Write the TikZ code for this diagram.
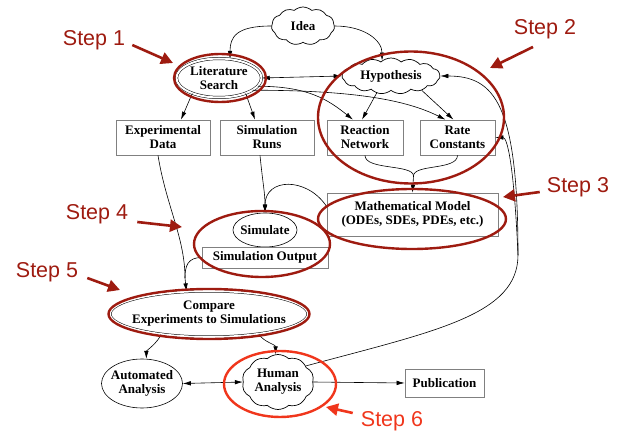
\documentclass[tikz,border=0pt]{standalone}
\usepackage{fontspec}
\setmainfont{Liberation Serif}
\newfontfamily\stepfont{Liberation Sans}
\usetikzlibrary{shapes.geometric,shapes.symbols,arrows.meta}
\definecolor{ringred}{HTML}{9E1B10}
\definecolor{hotred}{HTML}{F0361C}
\definecolor{boxgray}{HTML}{808080}

\begin{document}
\begin{tikzpicture}[x=1pt,y=-1pt,
  every node/.style={font=\bfseries\fontsize{13}{14}\selectfont, align=center, inner sep=0pt},
  box/.style={draw=boxgray, line width=0.7pt, rectangle},
  oval/.style={draw, ellipse, line width=0.6pt, inner xsep=-12pt, inner ysep=-3pt},
  dbloval/.style={draw, ellipse, double, double distance=2pt, line width=0.5pt, inner xsep=-12pt, inner ysep=-3pt},
  puff/.style={draw, cloud, cloud puffs=#1, cloud puff arc=85, cloud ignores aspect,
    line width=0.7pt, inner xsep=-14pt, inner ysep=-8pt},
  wire/.style={line width=0.6pt},
  link/.style={wire, -{Latex[length=8pt,width=4.5pt]}},
  dlink/.style={wire, {Latex[length=8pt,width=4.5pt]}-{Latex[length=8pt,width=4.5pt]}},
  ring/.style={draw=ringred, line width=2.4pt, ellipse, inner sep=0pt},
  steplabel/.style={font=\stepfont\fontsize{21.5}{22}\selectfont, text=ringred},
  steparrow/.style={draw=ringred, line width=2.6pt, -{Triangle[length=12pt,width=12pt]}},
]
\useasboundingbox (0,0) rectangle (625,436);

% ---- process nodes ----
\node[puff=11, minimum width=63pt, minimum height=38pt] (idea) at (303,26) {Idea};
\node[dbloval, minimum width=85pt, minimum height=39pt] (lit) at (219,78) {Literature\\Search};
\node[puff=15, minimum width=98pt, minimum height=36pt] (hyp) at (391,76) {Hypothesis};
\node[box, minimum width=94pt, minimum height=35pt] (expdata) at (163,137.5) {Experimental\\Data};
\node[box, minimum width=94pt, minimum height=35pt] (simruns) at (267,137.5) {Simulation\\Runs};
\node[box, minimum width=76pt, minimum height=35pt] (rxn) at (365,137.5) {Reaction\\Network};
\node[box, minimum width=75pt, minimum height=35pt] (rate) at (457.5,137.5) {Rate\\Constants};
\node[box, minimum width=171pt, minimum height=43pt] (model) at (412.5,214.5) {Mathematical Model\\(ODEs, SDEs, PDEs, etc.)};
\node[oval, minimum width=64pt, minimum height=34pt] (simulate) at (265,230) {Simulate};
\node[box, minimum width=126pt, minimum height=21pt] (simout) at (265,257.5) {Simulation Output};
\node[dbloval, minimum width=198pt, minimum height=46pt] (compare) at (209,314) {Compare\\Experiments to Simulations};
\node[oval, minimum width=81pt, minimum height=49pt] (auto) at (142,383.5) {Automated\\Analysis};
\node[puff=10, minimum width=72pt, minimum height=55pt] (human) at (278,382) {Human\\Analysis};
\node[box, minimum width=79pt, minimum height=28pt] (pub) at (444.5,383) {Publication};

% ---- connectors ----
\draw[link] (idea.west) .. controls +(-35,0) and +(0,-22) .. (lit.60);
\draw[link] (idea.east) .. controls +(30,0) and +(0,-20) .. (hyp.120);
\draw[dlink] (lit.east) -- (hyp.west);
\draw[link] (lit.-12) .. controls +(50,0) and +(-25,-20) .. ([xshift=-12pt]rxn.north);
\draw[link] (lit.-20) .. controls +(100,0) and +(-40,-20) .. ([xshift=-12pt]rate.north);
\draw[link] (hyp.-130) -- ([xshift=-3pt]rxn.north);
\draw[link] (hyp.-25) -- ([xshift=-4pt]rate.north);
\draw[link] (lit.-150) -- ([xshift=18pt]expdata.north);
\draw[link] (lit.-30) -- ([xshift=-12pt]simruns.north);

\coordinate (merge) at (413.5,176);
\draw[wire] (rxn.south) .. controls +(0,15) and +(0,-12) .. (merge);
\draw[wire] (rate.south) .. controls +(0,15) and +(0,-12) .. (merge);
\draw[link] (merge) -- (model.north);

\draw[link] ([xshift=-7pt]simruns.south) .. controls +(3,30) and +(0,-20) .. (simulate.north);
\draw[link] ([yshift=8pt]model.west) .. controls +(-20,-30) and +(0,-35) .. (simulate.north);

\coordinate (join) at (185,278);
\draw[wire] ([xshift=-5pt]expdata.south) .. controls +(8,50) and +(0,-40) .. (join);
\draw[wire] (simout.west) .. controls +(-14,0) and +(0,-12) .. (join);
\draw[link] (join) -- (compare.135);

\draw[link] (compare.-157) .. controls +(-3,8) and +(0,-8) .. (auto.80);
\draw[link] (compare.-22) .. controls +(5,8) and +(0,-10) .. (human.95);
\draw[dlink] (auto.east) -- (human.west);
\draw[link] (human.east) -- (pub.west);

\coordinate (loop) at (518,255);
\draw[link] (human.30) .. controls +(130,-35) and +(0,60) .. (loop)
  .. controls +(0,-150) and +(55,0) .. (hyp.east);
\draw[link] (loop) .. controls +(-4,-90) and +(12,0) .. (rate.east);

% ---- step rings ----
\node[ring, minimum width=92pt, minimum height=48pt] (ring1) at (220,78) {};
\node[ring, minimum width=186pt, minimum height=132pt] (ring2) at (411,117.5) {};
\node[ring, minimum width=188pt, minimum height=60pt] (ring3) at (412,219) {};
\node[ring, minimum width=136pt, minimum height=66pt] (ring4) at (262,244) {};
\node[ring, minimum width=201pt, minimum height=50pt] (ring5) at (209,314) {};
\node[ring, draw=hotred, minimum width=112pt, minimum height=66pt] (ring6) at (280,384) {};

% ---- step labels ----
\node[steplabel] (s1) at (94,40) {Step 1};
\node[steplabel] (s2) at (545,29) {Step 2};
\node[steplabel] (s3) at (578,187) {Step 3};
\node[steplabel] (s4) at (97,214) {Step 4};
\node[steplabel] (s5) at (47,272) {Step 5};
\node[steplabel, text=hotred] (s6) at (392,421) {Step 6};

\coordinate (tip1) at (173,63);
\coordinate (tip2) at (490,68);
\coordinate (tip3) at (503,197);
\coordinate (tip4) at (182,227);
\coordinate (tip5) at (120,290);
\coordinate (tip6) at (326,407);

\draw[steparrow] ([xshift=7pt,yshift=-5pt]s1.east) -- (tip1);
\draw[steparrow] ([xshift=-12pt,yshift=-8pt]s2.south) -- (tip2);
\draw[steparrow] ([xshift=-7pt,yshift=-5pt]s3.west) -- (tip3);
\draw[steparrow] ([xshift=9pt,yshift=-8pt]s4.east) -- (tip4);
\draw[steparrow] ([xshift=9pt,yshift=-6pt]s5.east) -- (tip5);
\draw[steparrow, draw=hotred] ([xshift=-8pt,yshift=8pt]s6.west) -- (tip6);
\end{tikzpicture}
\end{document}
